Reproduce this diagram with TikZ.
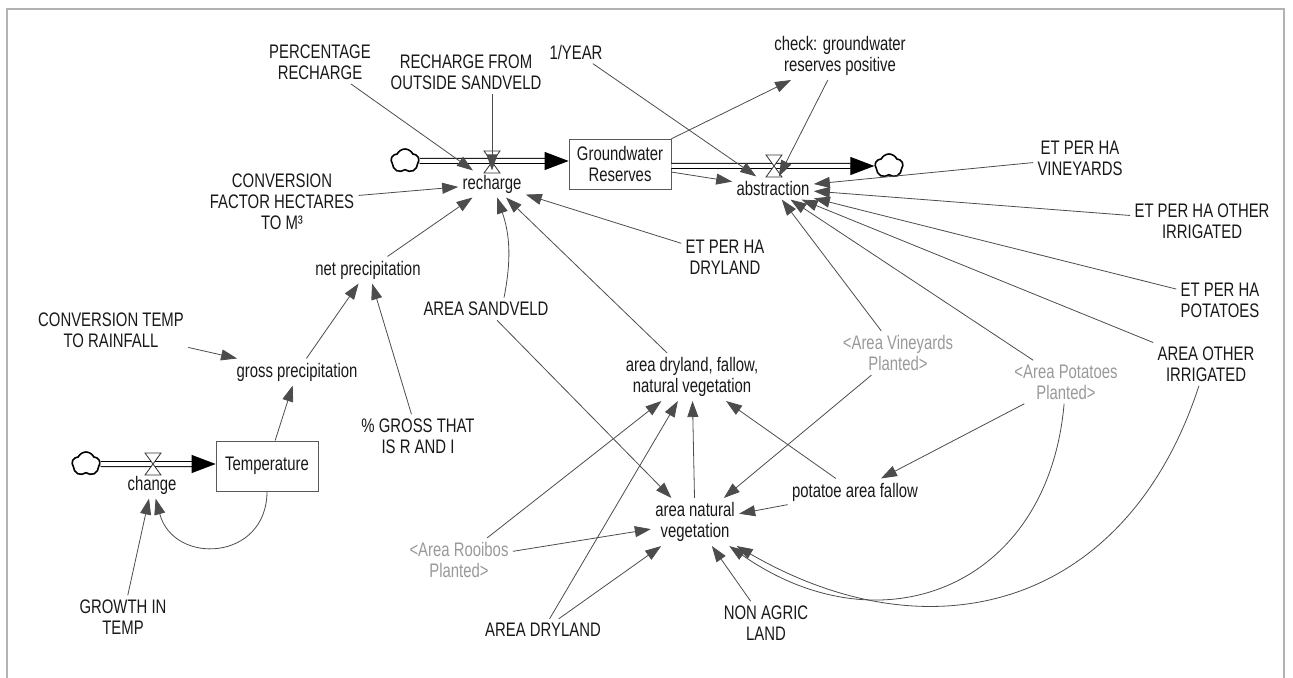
\documentclass[tikz,border=0pt]{standalone}
\usepackage{fontspec}
\setmainfont{Liberation Sans}[FakeStretch=0.76]
\usepackage{tikz}
\usetikzlibrary{arrows.meta,shapes.symbols}

\begin{document}
\begin{tikzpicture}[x=0.5pt, y=-0.5pt, >={Triangle[length=8pt, width=5.5pt]},
    every node/.style = {font=\fontsize{9.8}{10.5}\selectfont, align=center, text=black!90},
    aux/.style = {inner sep=2pt},
    ghost/.style = {inner sep=2pt, text=black!40},
    stock/.style = {draw=black!65, minimum width=51pt, minimum height=25pt, inner sep=1pt},
    source/.style = {shape=cloud, cloud puffs=5, cloud puff arc=130, aspect=1.1, draw, line width=0.8pt, minimum width=14pt, minimum height=12pt, inner sep=0pt},
    pipe/.style = {draw, line width=0.5pt, double=white, double distance=2pt, -{Triangle[length=12pt, width=9pt]}},
    valve/.style = {draw=black!80, fill=white, line width=0.4pt},
    link/.style = {->, draw=black!70, line width=0.4pt},
    frame/.style = {draw=black!30, line width=0.6pt}]
    \useasboundingbox (0,0) rectangle (1293,678);
    \draw[frame] (7,678) -- (7,9) -- (1284,9) -- (1284,678);

    \node[aux] (1) at (320,62) {PERCENTAGE\\RECHARGE};
    \node[aux] (2) at (466,72) {RECHARGE FROM\\OUTSIDE SANDVELD};
    \node[aux] (3) at (576,52) {1/YEAR};
    \node[aux] (4) at (840,56) {check: groundwater\\reserves positive};
    \node[aux] (5) at (492,184) {recharge};
    \node[stock] (6) at (620,164) {Groundwater\\Reserves};
    \node[aux] (7) at (773,188) {abstraction};
    \node[aux] (8) at (282,202) {CONVERSION\\FACTOR HECTARES\\TO M³};
    \node[aux] (9) at (1080,158) {ET PER HA\\VINEYARDS};
    \node[aux] (10) at (1202,221) {ET PER HA OTHER\\IRRIGATED};
    \node[aux] (11) at (725,257) {ET PER HA\\DRYLAND};
    \node[aux] (12) at (368,270) {net precipitation};
    \node[aux] (13) at (1220,300) {ET PER HA\\POTATOES};
    \node[aux] (14) at (486,309) {AREA SANDVELD};
    \node[aux] (15) at (111,330) {CONVERSION TEMP\\TO RAINFALL};
    \node[aux] (16) at (297,372) {gross precipitation};
    \node[aux] (17) at (418,436) {\% GROSS THAT\\IS R AND I};
    \node[aux] (18) at (692,377) {area dryland, fallow,\\natural vegetation};
    \node[ghost] (19) at (898,353) {<Area Vineyards\\Planted>};
    \node[ghost] (20) at (1066,382) {<Area Potatoes\\Planted>};
    \node[aux] (21) at (1206,364) {AREA OTHER\\IRRIGATED};
    \node[stock] (22) at (267,466) {Temperature};
    \node[aux] (23) at (152,485) {change};
    \node[aux] (24) at (855,492) {potatoe area fallow};
    \node[aux] (25) at (695,522) {area natural\\vegetation};
    \node[ghost] (26) at (459,560) {<Area Rooibos\\Planted>};
    \node[aux] (27) at (123,617) {GROWTH IN\\TEMP};
    \node[aux] (28) at (543,630) {AREA DRYLAND};
    \node[aux] (29) at (766,623) {NON AGRIC\\LAND};
    \node[source] (30) at (405,161) {};
    \node[source] (31) at (889,166) {};
    \node[source] (32) at (86,464) {};

    \draw[pipe] (30) -- (30 -| 6.west);
    \draw[pipe] (6.east |- 31) -- (31);
    \draw[pipe] (32) -- (32 -| 22.west);
    \draw[valve] (492,162) ++(-8,-11) -- ++(16,0) -- ++(-16,22) -- ++(16,0) -- cycle;
    \draw[valve] (774,166) ++(-8,-11) -- ++(16,0) -- ++(-16,22) -- ++(16,0) -- cycle;
    \draw[valve] (153,464) ++(-8,-11) -- ++(16,0) -- ++(-16,22) -- ++(16,0) -- cycle;

    \draw[link] (1) -- (5);
    \draw[link] (2.south -| 5) -- (5);
    \draw[link] (8) -- (5);
    \draw[link] (12) -- (5);
    \draw[link] ([xshift=9pt]14.north) to[bend right=15] (5);
    \draw[link] (18) -- (5);
    \draw[link] (11) -- (5);
    \draw[link] (6) -- (4);
    \draw[link] (4) -- (7);
    \draw[link] (3) -- (7);
    \draw[link] (6) -- (7);
    \draw[link] (9) -- (7);
    \draw[link] (10) -- (7);
    \draw[link] (13) -- (7);
    \draw[link] (21) -- (7);
    \draw[link] (20) -- (7);
    \draw[link] (19) -- (7);
    \draw[link] (16) -- (12);
    \draw[link] (17) -- (12);
    \draw[link] (15) -- (16);
    \draw[link] (22) -- (16);
    \draw[link] (22) to[out=-90, in=-75, looseness=1.6] (23);
    \draw[link] (27) -- (23);
    \draw[link] (14) -- (25);
    \draw[link] (19) -- (25);
    \draw[link] (20) -- (24);
    \draw[link] (20) to[out=-95, in=-35, looseness=1.3] (25);
    \draw[link] (21) to[out=-108, in=-30, looseness=1.2] (25);
    \draw[link] (24) -- (25);
    \draw[link] (24) -- (18);
    \draw[link] (25) -- (18);
    \draw[link] (29) -- (25);
    \draw[link] (28) -- (25);
    \draw[link] (28) -- (18);
    \draw[link] (26) -- (25);
    \draw[link] (26) -- (18);
\end{tikzpicture}
\end{document}
